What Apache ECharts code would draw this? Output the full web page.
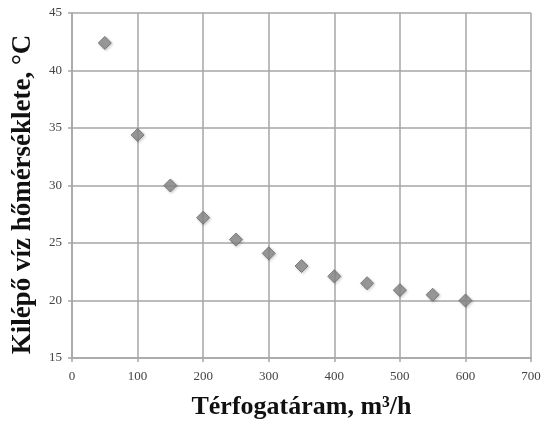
<!DOCTYPE html>
<html><head><meta charset="utf-8">
<script src="https://cdn.jsdelivr.net/npm/echarts@6/dist/echarts.min.js"></script>
<style>html,body{margin:0;padding:0;background:#fff}#c{width:549px;height:421px}</style>
</head><body><div id="c"></div>
<script>
const flowRates = [50, 100, 150, 200, 250, 300, 350, 400, 450, 500, 550, 600];
const outletTemps = [42.4, 34.4, 30.0, 27.2, 25.3, 24.1, 23.0, 22.1, 21.5, 20.9, 20.5, 20.0];
const xTitle = 'Térfogatáram, m³/h';
const yTitle = 'Kilépő víz hőmérséklete, °C';

const chart = echarts.init(document.getElementById('c'), null, {renderer: 'canvas'});
const gridColor = '#a6a6a6';
chart.setOption({
  animation: false,
  backgroundColor: '#fff',
  grid: {left: 72, right: 18, top: 13, bottom: 63, containLabel: false, outerBoundsMode: 'none'},
  xAxis: {
    type: 'value', min: 0, max: 700, interval: 100,
    name: xTitle, nameLocation: 'middle', nameGap: 36,
    nameTextStyle: {fontFamily: 'Liberation Serif', fontWeight: 'bold', fontSize: 26, color: '#111'},
    axisLine: {show: true, lineStyle: {color: gridColor, width: 1.5}},
    axisTick: {show: true, length: 4, lineStyle: {color: gridColor, width: 1.5}},
    axisLabel: {fontFamily: 'Liberation Serif', fontSize: 13, color: '#444', margin: 12},
    splitLine: {show: true, lineStyle: {color: gridColor, width: 1.5}}
  },
  yAxis: {
    type: 'value', min: 15, max: 45, interval: 5,
    name: yTitle, nameLocation: 'middle', nameGap: 35, nameRotate: 90,
    nameTextStyle: {fontFamily: 'Liberation Serif', fontWeight: 'bold', fontSize: 27, color: '#111', padding: [0, 18, 0, 0]},
    axisLine: {show: true, lineStyle: {color: gridColor, width: 1.5}},
    axisTick: {show: true, length: 4, lineStyle: {color: gridColor, width: 1.5}},
    axisLabel: {fontFamily: 'Liberation Serif', fontSize: 13, color: '#444', margin: 10},
    splitLine: {show: true, lineStyle: {color: gridColor, width: 1.5}}
  },
  series: [{
    type: 'scatter',
    symbol: 'diamond',
    symbolSize: 13,
    data: flowRates.map((x, i) => [x, outletTemps[i]]),
    itemStyle: {color: '#8a8a8a', borderColor: '#6a6a6a', borderWidth: 1,
      shadowColor: 'rgba(0,0,0,0.25)', shadowBlur: 3, shadowOffsetX: 1, shadowOffsetY: 1}
  }]
});
</script></body></html>
